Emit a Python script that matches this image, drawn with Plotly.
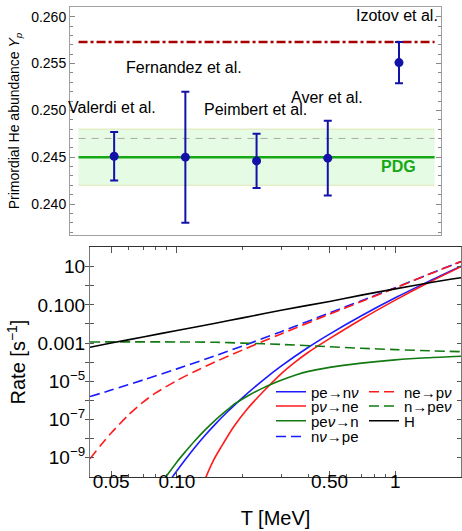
import plotly.graph_objects as go

# ---------------- top panel data ----------------
obs_labels = ["Valerdi et al.", "Fernandez et al.", "Peimbert et al.", "Aver et al.", "Izotov et al."]
obs_index = [1, 2, 3, 4, 5]
obs_yp = [0.2451, 0.2450, 0.2446, 0.2449, 0.2551]
obs_err = [0.0026, 0.0070, 0.0029, 0.0040, 0.0022]
label_x = [0.97, 1.98, 2.99, 3.99, 4.97]
label_y = [0.2503, 0.2546, 0.2501, 0.2514, 0.2601]
band_x = [0.5, 5.5]
pdg_central = 0.245
pdg_low = 0.242
pdg_high = 0.248
pdg_dashed = 0.247
izotov_line = 0.2573
top_ticks = [0.240, 0.245, 0.250, 0.255, 0.260]
top_ticktext = ["0.240", "0.245", "0.250", "0.255", "0.260"]

# ---------------- bottom panel data (log10 of rate in s^-1) ----------------
T_pe_nnu = [0.095, 0.1, 0.11, 0.12, 0.135, 0.15, 0.17, 0.2, 0.25, 0.3, 0.4, 0.5, 0.7, 1.0, 1.4, 2.0]
lg_pe_nnu = [-10.04, -9.68, -9.05, -8.50, -7.81, -7.24, -6.61, -5.85, -4.91, -4.21, -3.22, -2.53,
             -1.57, -0.63, 0.19, 1.02]

T_pnu_ne = [0.13, 0.136, 0.148, 0.16, 0.182, 0.21, 0.25, 0.3, 0.35, 0.4, 0.5, 0.7, 1.0, 1.4, 2.0]
lg_pnu_ne = [-10.58, -10.0, -9.08, -8.41, -7.38, -6.45, -5.51, -4.61, -3.97, -3.48, -2.77, -1.75,
             -0.75, 0.13, 1.0]

T_penu_n = [0.085, 0.09, 0.1, 0.11, 0.12, 0.135, 0.15, 0.17, 0.185, 0.21, 0.25, 0.3, 0.35, 0.4,
            0.5, 0.566, 0.7, 1.0, 1.4, 2.0]
lg_penu_n = [-10.33, -9.93, -9.22, -8.65, -8.15, -7.53, -7.03, -6.5, -6.16, -5.78, -5.33, -4.95,
             -4.67, -4.48, -4.27, -4.18, -4.05, -3.88, -3.77, -3.69]

T_nnu_pe = [0.04, 0.05, 0.07, 0.1, 0.15, 0.2, 0.3, 0.5, 0.7, 1.0, 1.5, 2.0]
lg_nnu_pe = [-5.8, -5.46, -4.93, -4.35, -3.66, -3.15, -2.40, -1.42, -0.78, -0.10, 0.71, 1.27]

T_ne_pnu = [0.04, 0.045, 0.05, 0.06, 0.07, 0.08, 0.1, 0.12, 0.15, 0.2, 0.3, 0.5, 0.7, 1.0, 1.5, 2.0]
lg_ne_pnu = [-9.05, -8.32, -7.71, -6.76, -6.09, -5.61, -4.96, -4.50, -3.98, -3.36, -2.52, -1.49,
             -0.82, -0.11, 0.70, 1.27]

T_n_penu = [0.04, 0.1, 0.15, 0.2, 0.3, 0.5, 0.7, 1.0, 1.5, 2.0]
lg_n_penu = [-2.94, -2.94, -2.96, -3.0, -3.07, -3.19, -3.27, -3.34, -3.41, -3.45]

T_H = [0.04, 0.05, 0.07, 0.1, 0.15, 0.2, 0.3, 0.5, 0.7, 1.0, 1.5, 2.0]
lg_H = [-3.22, -3.0, -2.68, -2.34, -1.96, -1.68, -1.28, -0.82, -0.49, -0.16, 0.2, 0.42]

x_ticks = [0.05, 0.1, 0.5, 1]
x_ticktext = ["0.05", "0.10", "0.50", "1"]
x_minor = [0.04, 0.06, 0.07, 0.08, 0.09, 0.2, 0.3, 0.4, 0.6, 0.7, 0.8, 0.9, 2]
y_ticks = [1e2, 1e1, 1e0, 1e-1, 1e-2, 1e-3, 1e-4, 1e-5, 1e-6, 1e-7, 1e-8, 1e-9, 1e-10]
y_ticktext = ["", "10", "", "0.100", "", "0.001", "", "10<sup>\u22125</sup>", "",
              "10<sup>\u22127</sup>", "", "10<sup>\u22129</sup>", ""]

FONT = "Liberation Sans, Arial, sans-serif"
W, H = 462, 531

fig = go.Figure()

# ---- top panel ----
fig.add_trace(go.Scatter(x=band_x, y=[pdg_low] * 2, mode="lines",
                         line=dict(color="#dfe6b4", width=1), showlegend=False,
                         xaxis="x", yaxis="y", hoverinfo="skip"))
fig.add_trace(go.Scatter(x=band_x, y=[pdg_high] * 2, mode="lines", fill="tonexty",
                         fillcolor="#e6fbe4", line=dict(color="#dfe6b4", width=1),
                         showlegend=False, xaxis="x", yaxis="y", hoverinfo="skip"))
fig.add_trace(go.Scatter(x=band_x, y=[pdg_dashed] * 2, mode="lines",
                         line=dict(color="#aaaaaa", width=1, dash="7px,6px"),
                         showlegend=False, xaxis="x", yaxis="y"))
fig.add_trace(go.Scatter(x=band_x, y=[pdg_central] * 2, mode="lines",
                         line=dict(color="#14a814", width=2.6),
                         showlegend=False, xaxis="x", yaxis="y"))
fig.add_trace(go.Scatter(x=band_x, y=[izotov_line] * 2, mode="lines",
                         line=dict(color="#a80000", width=2.4, dash="9px,3px,3px,3px"),
                         showlegend=False, xaxis="x", yaxis="y"))
fig.add_trace(go.Scatter(x=obs_index, y=obs_yp, mode="markers",
                         marker=dict(color="#1212a8", size=9),
                         error_y=dict(type="data", array=obs_err, color="#1212a8",
                                      thickness=2, width=4),
                         showlegend=False, xaxis="x", yaxis="y"))

# ---- bottom panel ----
curves = [
    ("pe\u2192n<i>\u03bd</i>", T_pe_nnu, lg_pe_nnu, "#1a1aff", "solid", "legend"),
    ("p<i>\u03bd</i>\u2192ne", T_pnu_ne, lg_pnu_ne, "#ff1a1a", "solid", "legend2"),
    ("pe<i>\u03bd</i>\u2192n", T_penu_n, lg_penu_n, "#127a12", "solid", "legend3"),
    ("n<i>\u03bd</i>\u2192pe", T_nnu_pe, lg_nnu_pe, "#1a1aff", "10px,5px", "legend4"),
    ("ne\u2192p<i>\u03bd</i>", T_ne_pnu, lg_ne_pnu, "#ff1a1a", "10px,5px", "legend5"),
    ("n\u2192pe<i>\u03bd</i>", T_n_penu, lg_n_penu, "#127a12", "10px,5px", "legend6"),
    ("H", T_H, lg_H, "#000000", "solid", "legend7"),
]
for name, tx, lg, col, dash, leg in curves:
    fig.add_trace(go.Scatter(x=tx, y=[10 ** v for v in lg], mode="lines", name=name,
                             line=dict(color=col, width=1.6, dash=dash, shape="spline",
                                       smoothing=0.8),
                             xaxis="x2", yaxis="y2", legend=leg))

# empty trace so the overlaid label axis (x3) exists
fig.add_trace(go.Scatter(x=[], y=[], xaxis="x3", yaxis="y2", showlegend=False,
                         hoverinfo="skip"))

# annotations in top panel
ann = []
for lab, xi, yl in zip(obs_labels, label_x, label_y):
    ann.append(dict(x=xi, y=yl, xref="x", yref="y", text=lab, showarrow=False,
                    font=dict(family=FONT, size=16, color="black"), yanchor="middle"))
ann.append(dict(x=5, y=0.2440, xref="x", yref="y", text="<b>PDG</b>", showarrow=False,
                font=dict(family=FONT, size=16, color="#14a814"), yanchor="middle"))

xr2 = [-1.398, 0.301]
layout = dict(
    width=W, height=H, margin=dict(l=0, r=0, t=0, b=0),
    paper_bgcolor="white", plot_bgcolor="white",
    font=dict(family=FONT, color="black"),
    annotations=ann,
    xaxis=dict(domain=[70 / W, 441 / W], range=[0.38, 5.59], showticklabels=False,
               showgrid=False, zeroline=False, showline=True, linecolor="#a0a0a0",
               linewidth=1, mirror=True, ticks=""),
    yaxis=dict(domain=[1 - 235 / H, 1 - 7 / H], range=[0.23669, 0.26104],
               tickvals=top_ticks, ticktext=top_ticktext, ticks="inside", ticklen=5,
               tickcolor="#888888", showgrid=False, zeroline=False, showline=True,
               linecolor="#a0a0a0", linewidth=1, mirror="allticks",
               tickfont=dict(size=14), anchor="x",
               minor=dict(tickvals=[0.237 + 0.001 * i for i in range(24)], ticks="inside",
                          ticklen=3, tickcolor="#888888", showgrid=False),
               title=dict(text="Primordial He abundance <i>Y</i><sub><i>p</i></sub>",
                          font=dict(size=14), standoff=8)),
    xaxis2=dict(domain=[90 / W, 461 / W], type="log", range=xr2,
                tickvals=x_ticks, ticktext=x_ticktext, showticklabels=False,
                ticks="inside", ticklen=6,
                tickcolor="#555555", showgrid=False, zeroline=False, showline=True,
                linecolor="#333333", linewidth=1.2, mirror="allticks", anchor="y2",
                minor=dict(tickvals=x_minor, ticks="inside", ticklen=3,
                           tickcolor="#555555", showgrid=False),
                title=dict(text="T [MeV]", font=dict(size=20), standoff=33)),
    xaxis3=dict(overlaying="x2", anchor="free", position=1 - 468 / H, type="log", range=xr2,
                tickvals=x_ticks, ticktext=x_ticktext, ticks="", showline=False,
                showgrid=False, zeroline=False, tickfont=dict(size=19), side="bottom"),
    yaxis2=dict(domain=[1 - 477 / H, 1 - 247 / H], type="log", range=[-10.01, 2.03],
                tickvals=y_ticks, ticktext=y_ticktext, ticks="inside", ticklen=4,
                tickcolor="#555555", showgrid=False, zeroline=False, showline=True,
                linecolor="#777777", linewidth=1.2, mirror="allticks", anchor="x2",
                tickfont=dict(size=19),
                title=dict(text="Rate [s<sup>\u22121</sup>]", font=dict(size=20), standoff=6)),
)

# one legend per entry, arranged in two columns like the original
leg_pos = {
    "legend": (271, 392.0), "legend2": (271, 406.3), "legend3": (271, 421.0),
    "legend4": (271, 436.8), "legend5": (364, 392.0), "legend6": (364, 406.3),
    "legend7": (364, 421.0),
}
for key, (px, py) in leg_pos.items():
    layout[key] = dict(x=px / W, y=1 - py / H, xanchor="left", yanchor="middle",
                       bgcolor="rgba(0,0,0,0)", font=dict(family=FONT, size=15, color="black"),
                       itemwidth=30, tracegroupgap=0, borderwidth=0)

fig.update_layout(**layout)
fig.write_html("out.html", config={"displayModeBar": False},
               post_script="document.body.style.margin='0px';")
